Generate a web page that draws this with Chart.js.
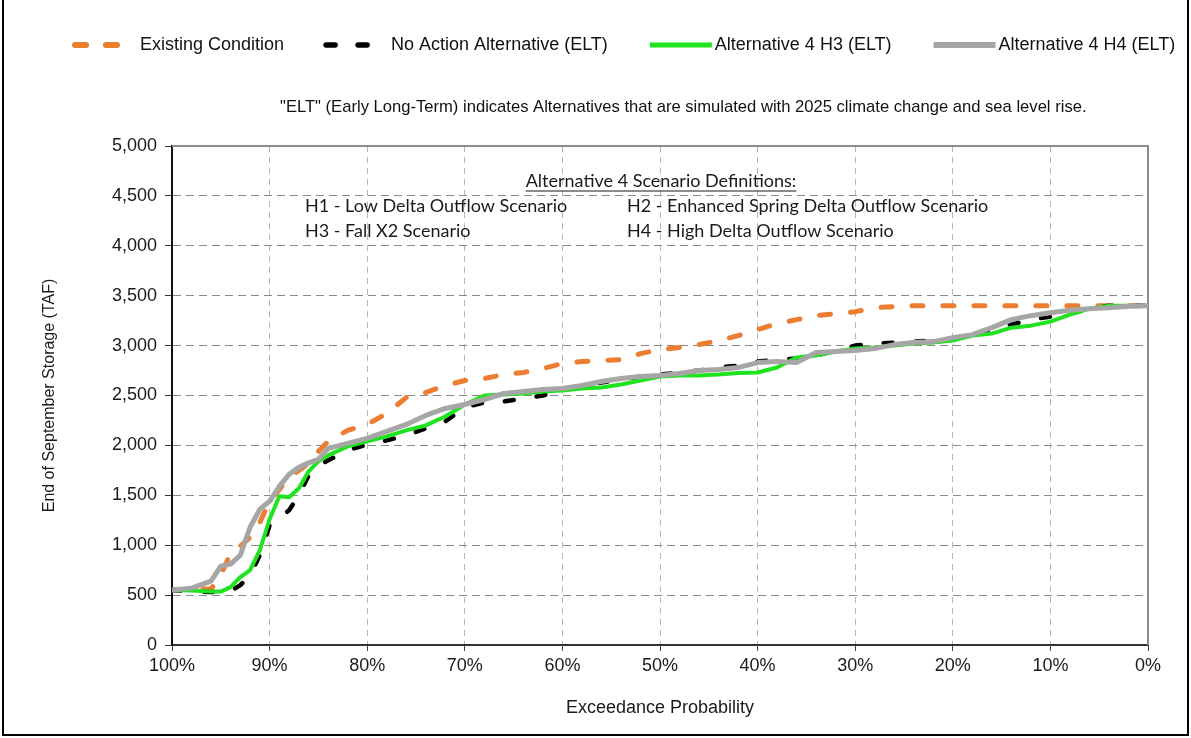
<!DOCTYPE html>
<html><head><meta charset="utf-8">
<script src="https://cdn.jsdelivr.net/npm/chart.js@4.4.1/dist/chart.umd.min.js"></script>
<style>
html,body{margin:0;padding:0;background:#fff;}
#wrap{position:relative;width:1191px;height:738px;}
</style></head><body>
<div id="wrap"><canvas id="c" width="1191" height="738"></canvas></div>
<script>
// ---- data ----
const exceedance = [100, 98, 96, 95, 94, 93, 92, 91, 90, 89, 88, 87, 86, 85, 84, 82, 80, 78, 76, 74, 72, 70, 68, 66, 64, 62, 60, 58, 56, 54, 52, 50, 48, 46, 44, 42, 40, 38, 36, 34, 32, 30, 28, 26, 24, 22, 20, 18, 16, 14, 12, 10, 8, 6, 4, 2, 0];
const existing = [550, 560, 560, 700, 920, 990, 1080, 1230, 1440, 1560, 1680, 1750, 1820, 1940, 2040, 2150, 2210, 2320, 2480, 2530, 2600, 2650, 2670, 2710, 2730, 2770, 2820, 2840, 2850, 2860, 2920, 2960, 2980, 3010, 3050, 3100, 3160, 3220, 3260, 3300, 3320, 3340, 3380, 3390, 3400, 3400, 3400, 3400, 3400, 3400, 3400, 3400, 3400, 3400, 3400, 3400, 3400];
const noAction = [550, 540, 530, 530, 540, 600, 700, 900, 1200, 1270, 1350, 1500, 1700, 1800, 1850, 1950, 2010, 2050, 2100, 2170, 2240, 2380, 2430, 2440, 2470, 2500, 2560, 2590, 2630, 2660, 2690, 2710, 2730, 2750, 2780, 2800, 2840, 2860, 2870, 2900, 2950, 3000, 3020, 3030, 3040, 3050, 3070, 3110, 3150, 3210, 3260, 3290, 3320, 3370, 3400, 3400, 3400];
const alt4H3 = [550, 545, 535, 535, 580, 680, 750, 950, 1260, 1490, 1480, 1570, 1740, 1840, 1900, 1990, 2040, 2090, 2150, 2200, 2290, 2410, 2500, 2510, 2520, 2540, 2550, 2570, 2580, 2610, 2650, 2690, 2700, 2700, 2710, 2725, 2730, 2780, 2880, 2900, 2940, 2970, 2980, 3000, 3020, 3030, 3050, 3100, 3120, 3180, 3200, 3240, 3310, 3370, 3400, 3400, 3400];
const alt4H4 = [550, 570, 640, 790, 810, 900, 1180, 1360, 1440, 1590, 1710, 1780, 1825, 1860, 1970, 2020, 2070, 2140, 2210, 2300, 2370, 2410, 2460, 2520, 2540, 2560, 2570, 2600, 2640, 2670, 2690, 2700, 2720, 2750, 2760, 2780, 2830, 2840, 2830, 2930, 2940, 2950, 2970, 3010, 3030, 3040, 3080, 3110, 3180, 3260, 3300, 3330, 3355, 3370, 3380, 3395, 3400];
const seriesLabels = ['Existing Condition', 'No Action Alternative (ELT)', 'Alternative 4 H3 (ELT)', 'Alternative 4 H4 (ELT)'];
const xTickValues = [100, 90, 80, 70, 60, 50, 40, 30, 20, 10, 0];
const yTickValues = [0, 500, 1000, 1500, 2000, 2500, 3000, 3500, 4000, 4500, 5000];
const xTitle = 'Exceedance Probability';
const yTitle = 'End of September Storage (TAF)';
const noteText = '"ELT" (Early Long-Term) indicates Alternatives that are simulated with 2025 climate change and sea level rise.';
const defTitle = 'Alternative 4 Scenario Definitions:';
const defLines = ['H1 - Low Delta Outflow Scenario', 'H2 - Enhanced Spring Delta Outflow Scenario', 'H3 - Fall X2 Scenario', 'H4 - High Delta Outflow Scenario'];

const toPts = arr => exceedance.map((p, i) => ({x: p, y: arr[i]}));
const FONT = '"Liberation Sans", Arial, sans-serif';

const styles = [
  {borderColor: '#ED7D31', borderWidth: 5, borderDash: [11, 20], borderCapStyle: 'round', order: 4},
  {borderColor: '#000000', borderWidth: 4.5, borderDash: [9, 23], borderCapStyle: 'round', order: 3},
  {borderColor: '#1FE31F', borderWidth: 4, borderDash: [], borderCapStyle: 'butt', order: 2},
  {borderColor: '#A6A6A6', borderWidth: 5, borderDash: [], borderCapStyle: 'butt', order: 1}
];
const seriesValues = [existing, noAction, alt4H3, alt4H4];

const datasets = seriesLabels.map((lab, i) => Object.assign({
  label: lab,
  data: toPts(seriesValues[i]),
  pointRadius: 0,
  pointHoverRadius: 0,
  fill: false,
  tension: 0,
  borderJoinStyle: 'round'
}, styles[i]));

const framePlugin = {
  id: 'frame',
  beforeDatasetsDraw(chart) {
    const {ctx, chartArea: a} = chart;
    ctx.save();
    ctx.strokeStyle = '#8c8c8c';
    ctx.lineWidth = 2;
    ctx.setLineDash([]);
    ctx.beginPath();
    ctx.moveTo(a.left, a.top); ctx.lineTo(a.right, a.top); ctx.lineTo(a.right, a.bottom);
    ctx.stroke();
    ctx.restore();
  }
};

const textPlugin = {
  id: 'texts',
  afterDraw(chart) {
    const ctx = chart.ctx;
    ctx.save();
    // outer figure border
    ctx.strokeStyle = '#000'; ctx.lineWidth = 2; ctx.setLineDash([]);
    ctx.beginPath();
    ctx.moveTo(3, 0); ctx.lineTo(3, 735); ctx.lineTo(1188, 735); ctx.lineTo(1188, 0);
    ctx.stroke();

    // legend
    ctx.font = '18px ' + FONT;
    ctx.textBaseline = 'middle';
    ctx.textAlign = 'left';
    let x = 75;
    const ly = 45;
    chart.data.datasets.forEach(ds => {
      const len = ds.borderDash.length ? 52 : 62;
      ctx.save();
      ctx.strokeStyle = ds.borderColor;
      ctx.lineWidth = ds.borderWidth + 1;
      ctx.lineCap = ds.borderCapStyle;
      ctx.setLineDash(ds.borderDash);
      ctx.beginPath(); ctx.moveTo(x, ly); ctx.lineTo(x + len, ly); ctx.stroke();
      ctx.restore();
      x += len + (ds.borderDash.length ? 13 : 3);
      ctx.fillStyle = '#111';
      ctx.fillText(ds.label, x, ly);
      x += ctx.measureText(ds.label).width + 42;
    });

    // note line
    ctx.font = '16.6px ' + FONT;
    ctx.fillStyle = '#111';
    ctx.fillText(noteText, 280, 107);

    // scenario definitions
    ctx.font = '18px Lato, "Open Sans", sans-serif';
    ctx.fillStyle = '#1a1a1a';
    ctx.textAlign = 'center';
    ctx.fillText(defTitle, 661, 181);
    const w = ctx.measureText(defTitle).width;
    ctx.strokeStyle = '#1a1a1a'; ctx.lineWidth = 1.2;
    ctx.beginPath(); ctx.moveTo(661 - w / 2, 191); ctx.lineTo(661 + w / 2, 191); ctx.stroke();
    ctx.textAlign = 'left';
    ctx.fillText(defLines[0], 305, 206);
    ctx.fillText(defLines[1], 627, 206);
    ctx.fillText(defLines[2], 305, 231);
    ctx.fillText(defLines[3], 627, 231);
    ctx.restore();
  }
};

new Chart(document.getElementById('c'), {
  type: 'line',
  data: {datasets},
  options: {
    responsive: false,
    animation: false,
    devicePixelRatio: 1,
    layout: {padding: {left: 30, right: 43, top: 146, bottom: 3}},
    plugins: {legend: {display: false}, tooltip: {enabled: false}, title: {display: false}},
    scales: {
      x: {
        type: 'linear', reverse: true, min: 0, max: 100,
        afterBuildTicks: s => { s.ticks = xTickValues.map(v => ({value: v})); },
        afterFit: s => { s.height = 90; },
        ticks: {callback: v => v + '%', font: {size: 18, family: FONT}, color: '#1a1a1a', padding: 4, maxRotation: 0, autoSkip: false},
        grid: {color: '#b8b8b8', lineWidth: 1, tickLength: 6, tickColor: '#444', tickWidth: 1},
        border: {display: true, color: '#333', width: 2, dash: [6, 5]},
        title: {display: true, text: xTitle, font: {size: 18, family: FONT}, color: '#1a1a1a', padding: {top: 4, bottom: 16}}
      },
      y: {
        min: 0, max: 5000,
        afterBuildTicks: s => { s.ticks = yTickValues.map(v => ({value: v})); },
        afterFit: s => { s.width = 142; },
        ticks: {callback: v => v.toLocaleString('en-US'), font: {size: 18, family: FONT}, color: '#1a1a1a', padding: 8, autoSkip: false},
        grid: {color: '#8a8a8a', lineWidth: 1, tickLength: 7, tickColor: '#333', tickWidth: 1},
        border: {display: true, color: '#111', width: 2, dash: [8, 5]},
        title: {display: true, text: yTitle, font: {size: 16, family: FONT}, color: '#1a1a1a', padding: {top: 10, bottom: 4}}
      }
    }
  },
  plugins: [framePlugin, textPlugin]
});
</script>
</body></html>
